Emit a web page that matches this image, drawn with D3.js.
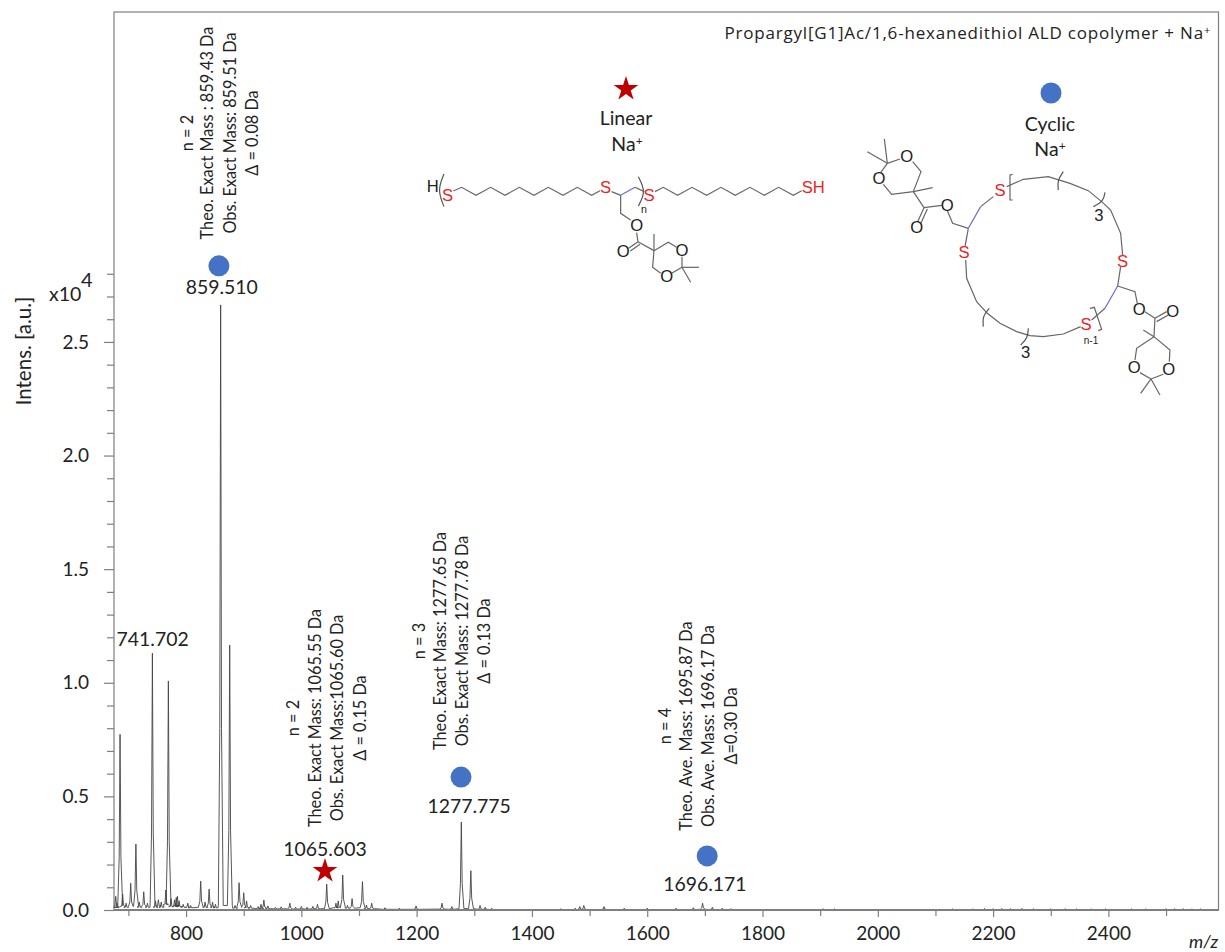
<!DOCTYPE html>
<html><head><meta charset="utf-8">
<script src="https://d3js.org/d3.v7.min.js"></script>
<style>html,body{margin:0;padding:0;background:#fff}svg{display:block}text{font-family:Lato,"Open Sans",sans-serif;fill:#222}</style>
</head><body><svg id="c" width="1225" height="952"></svg>
<script>
// spectrum peaks
const peakMz=[678,680,685.5,690,696,704,713,719,726.6,733,741.6,747,752,757,765,769.3,774,780,783,785,788,795,803,808,825.4,833,840,846,851,860,875.7,885,892,900,905,912,925,930,935,942,955,965,980,990,1000,1010,1020,1028,1044,1060,1064,1071.8,1080,1088,1106,1113,1122,1145,1170,1199,1244,1261,1277.5,1294,1310,1319,1330,1450,1475,1483,1490,1525,1560,1600,1650,1680,1696,1713,1730,1745,1905,1925,2130,2165,2185,2200,2215,2230,2250,2270,2300,2325,2345,2370,2395,2440,2465,2500,2515,2530,2545,2560];
const peakHeight=[0.06,0.03,0.773,0.07,0.03,0.118,0.29,0.035,0.08,0.03,1.13,0.04,0.045,0.035,0.088,1.008,0.05,0.045,0.055,0.06,0.04,0.025,0.03,0.02,0.127,0.035,0.092,0.035,0.025,2.663,1.166,0.02,0.12,0.076,0.04,0.02,0.015,0.025,0.044,0.018,0.012,0.014,0.03,0.012,0.016,0.012,0.016,0.025,0.114,0.03,0.04,0.154,0.02,0.05,0.125,0.022,0.03,0.01,0.008,0.018,0.03,0.015,0.387,0.173,0.02,0.012,0.008,0.006,0.008,0.015,0.02,0.015,0.008,0.008,0.008,0.01,0.03,0.012,0.008,0.006,0.006,0.005,0.005,0.005,0.007,0.006,0.007,0.006,0.007,0.006,0.005,0.006,0.005,0.005,0.005,0.005,0.005,0.006,0.006,0.006,0.005,0.005];
const peakFoot=[0.01,0.012,0.02,0.015,0.012,0.015,0.018,0.012,0.015,0.012,0.018,0.012,0.018,0.012,0.025,0.025,0.015,0.015,0.02,0.02,0.015,0.012,0.012,0.01,0.012,0.012,0.012,0.012,0.01,0.02,0.02,0.008,0.012,0.012,0.01,0.008,0.006,0.007,0.008,0.006,0.005,0.005,0.005,0.004,0.005,0.004,0.005,0.005,0.006,0.01,0.012,0.012,0.008,0.008,0.01,0.006,0.006,0.003,0.003,0.003,0.004,0.003,0.006,0.006,0.003,0.003,0.002,0.002,0.002,0.002,0.002,0.002,0.002,0.002,0.002,0.002,0.003,0.002,0.002,0.002,0.002,0.002,0.002,0.002,0.002,0.002,0.002,0.002,0.002,0.002,0.002,0.002,0.002,0.002,0.002,0.002,0.002,0.002,0.002,0.002,0.002,0.002];
const xMajor=[800,1000,1200,1400,1600,1800,2000,2200,2400];
const xMinor=[700,900,1100,1300,1500,1700,1900,2100,2300,2500];
const yMajor=[0,0.5,1,1.5,2,2.5];
const yMinor=[0.1,0.2,0.3,0.4,0.6,0.7,0.8,0.9,1.1,1.2,1.3,1.4,1.6,1.7,1.8,1.9,2.1,2.2,2.3,2.4,2.6,2.7,2.8];
const peakLabels=["859.510","741.702","1065.603","1277.775","1696.171"];
const peakLabelMz=[862,742,1041,1291,1700];
const peakLabelY=[2.71,1.160,0.237,0.427,0.083];
const circleMz=[857,1277,1704];
const circleY=[2.835,0.585,0.238];
const starMz=[1041];
const starY=[0.172];
const noteGroups=[
 {x:[193,213,236,258],cy:133,t:["n = 2","Theo. Exact Mass : 859.43 Da","Obs. Exact Mass: 859.51 Da","Δ = 0.08 Da"]},
 {x:[299,321,343,366],cy:718,t:["n = 2","Theo. Exact Mass: 1065.55 Da","Obs. Exact Mass:1065.60 Da","Δ = 0.15 Da"]},
 {x:[425,446,468,490],cy:641,t:["n = 3","Theo. Exact Mass: 1277.65 Da","Obs. Exact Mass: 1277.78 Da","Δ = 0.13 Da"]},
 {x:[671,692,714,737],cy:726,t:["n = 4","Theo. Ave. Mass: 1695.87 Da","Obs. Ave. Mass: 1696.17 Da","Δ=0.30 Da"]}
];

const svg=d3.select("#c");
const L=114,R=1218.5,T=12,B=910;
const x=d3.scaleLinear().domain([675,2591]).range([L,R]);
const y=d3.scaleLinear().domain([0,3.952]).range([B,T]);
const grey="#7f7f7f";

svg.append("rect").attr("x",L).attr("y",T).attr("width",R-L).attr("height",B-T).attr("fill","none").attr("stroke",grey).attr("stroke-width",1.2);

const gx=svg.append("g").attr("transform",`translate(0,${B})`);
gx.call(d3.axisBottom(x).tickValues(xMajor).tickSize(7).tickPadding(10).tickFormat(d3.format("d")));
const gxm=svg.append("g").attr("transform",`translate(0,${B})`);
gxm.call(d3.axisBottom(x).tickValues(xMinor).tickSize(6).tickFormat(""));
const gy=svg.append("g").attr("transform",`translate(${L},0)`);
gy.call(d3.axisLeft(y).tickValues(yMajor).tickSize(10).tickPadding(15).tickFormat(d3.format(".1f")));
const gym=svg.append("g").attr("transform",`translate(${L},0)`);
gym.call(d3.axisLeft(y).tickValues(yMinor).tickSize(7).tickFormat(""));
[gx,gxm,gy,gym].forEach(g=>{g.select(".domain").remove();g.selectAll("line").attr("stroke",grey).attr("stroke-width",1.2);
 g.selectAll("text").attr("font-size",19).style("fill","#222");});

const pts=[];
peakMz.forEach((m,i)=>{const h=peakHeight[i],f=peakFoot[i];
 pts.push([m-4,f],[m-1.5,Math.max(f,h*0.3)],[m,h],[m+1.5,Math.max(f,h*0.3)],[m+4.5,f]);});
pts.push([2591,0.002]);
const line=d3.line().x(d=>x(d[0])).y(d=>y(d[1]));
svg.append("path").attr("d",line(pts)).attr("fill","none").attr("stroke","#444").attr("stroke-width",0.9);
svg.append("line").attr("x1",L).attr("x2",R).attr("y1",B).attr("y2",B).attr("stroke",grey).attr("stroke-width",1.8);

peakLabels.forEach((s,i)=>svg.append("text").attr("x",x(peakLabelMz[i])).attr("y",y(peakLabelY[i])).attr("text-anchor","middle").attr("font-size",19.4).text(s));

noteGroups.forEach(g=>g.t.forEach((s,i)=>svg.append("text").attr("transform",`translate(${g.x[i]},${g.cy}) rotate(-90)`).attr("text-anchor","middle").attr("font-size",16.3).text(s)));

const blue="#4472C4",red="#C00000";
const star=d3.symbol().type(d3.symbolStar).size(190);
circleMz.forEach((m,i)=>svg.append("circle").attr("cx",x(m)).attr("cy",y(circleY[i])).attr("r",10.5).attr("fill",blue));
starMz.forEach((m,i)=>svg.append("path").attr("d",star()).attr("transform",`translate(${x(m)},${y(starY[i])})`).attr("fill",red));
svg.append("circle").attr("cx",1051).attr("cy",93).attr("r",10.5).attr("fill",blue);
svg.append("path").attr("d",star()).attr("transform","translate(626,89)").attr("fill",red);

svg.append("text").attr("transform","translate(31,351) rotate(-90)").attr("text-anchor","middle").attr("font-size",20.5).text("Intens. [a.u.]");
svg.append("text").attr("x",49).attr("y",301).attr("font-size",19.5).text("x10");
svg.append("text").attr("x",81).attr("y",287).attr("font-size",20).text("4");
svg.append("text").attr("x",1189).attr("y",948).attr("font-size",18).attr("font-style","italic").text("m/z");
const hdr=svg.append("text").attr("x",1211).attr("y",39).attr("text-anchor","end").attr("font-size",17).attr("letter-spacing",0.8).style("font-family","'Open Sans',sans-serif");
hdr.append("tspan").text("Propargyl[G1]Ac/1,6-hexanedithiol ALD copolymer + Na");
hdr.append("tspan").attr("dy",-5).attr("font-size",11).text("+");

function legendText(cx,yy,a){const t=svg.append("text").attr("x",cx).attr("y",yy).attr("text-anchor","middle").attr("font-size",19.5);t.text(a);return t;}
legendText(626,125,"Linear");
function na(cx,yy){const t=legendText(cx,yy,"Na");t.append("tspan").attr("dy",-6).attr("font-size",12).text("+");}
na(627,151);
legendText(1050,131,"Cyclic");
na(1050,156);

const skeleton=(g,arr,col,w)=>arr.forEach(p=>g.append("path").attr("d",d3.line()(p)).attr("fill","none").attr("stroke",col||"#666").attr("stroke-width",w||3.6));
const brackets=(g,arr)=>arr.forEach(p=>g.append("path").attr("d",d3.line().curve(d3.curveBasis)(p)).attr("fill","none").attr("stroke","#555").attr("stroke-width",3.6));
const atoms=(g,arr)=>arr.forEach(a=>g.append("text").attr("x",a[0]).attr("y",a[1]).attr("text-anchor","middle").attr("dominant-baseline","central").attr("font-size",a[3]||50).style("font-family","'Liberation Sans',Arial,sans-serif").style("fill",a[4]||"#222").text(a[2]));
const S="#ee2222";

const linearBonds=[
 [[160,393],[185,382],[228,406],[272,382],[315,406],[358,382],[402,406],[445,382],[489,406],[532,382],[575,406],[600,392]],
 [[635,395],[662,406]],[[705,382],[733,395]],
 [[765,395],[790,382],[833,406],[876,382],[920,406],[963,382],[1006,406],[1050,382],[1093,406],[1136,382],[1180,406],[1205,392]],
 [[662,406],[662,460],[692,480]],[[710,518],[714,545]],[[714,545],[686,565]],[[720,553],[691,573]],
 [[714,545],[762,572]],[[762,572],[762,522]],[[762,572],[805,547],[830,562]],[[846,590],[846,622]],[[846,622],[815,640]],
 [[782,640],[758,622],[762,572]],[[846,622],[897,622]],[[846,622],[872,667]]
];
const linearParens=[[[132,342],[112,390],[132,440]],[[715,350],[738,395],[715,438]]];
const linearBlue=[[[662,406],[705,382]]];
const linearAtoms=[[98,381,"H"],[143,408,"S",50,S],[617,383,"S",50,S],[747,407,"S",50,S],[1240,383,"SH",50,S],[732,448,"n",32],[710,497,"O"],[670,575,"O"],[846,572,"O"],[800,650,"O"]];
const gl=svg.append("g").attr("transform","translate(400,60) scale(0.3333)");
skeleton(gl,linearBonds);brackets(gl,linearParens);skeleton(gl,linearBlue,"#6a6ad8");atoms(gl,linearAtoms);

const cyclicBonds=[
 [[112,310],[150,297]],[[112,310],[92,338]],[[112,310],[52,275]],[[112,310],[103,237]],
 [[100,373],[125,403],[190,395]],[[190,395],[248,383]],[[188,305],[213,335],[190,395]],[[190,395],[222,443]],
 [[222,443],[203,485]],[[232,447],[213,489]],[[222,443],[275,436]],[[292,452],[308,490],[355,505]],
 [[392,440],[430,410]],[[355,505],[345,560]],
 [[347,600],[350,655],[380,725],[412,760],[450,790],[500,815],[540,827],[580,830],[640,822],[692,800]],
 [[725,780],[765,745]],[[803,678],[812,620]],
 [[818,585],[812,520],[782,450],[755,425],[715,392],[660,370],[595,350],[520,358],[470,380]],
 [[488,343],[480,345],[480,420],[488,420]],[[720,745],[733,742],[755,808],[745,812]],
 [[803,678],[855,695],[862,730]],[[885,755],[915,775]],[[915,775],[950,755]],[[920,785],[955,765]],
 [[915,775],[912,830]],[[912,830],[880,810]],[[912,830],[960,870],[958,905]],[[940,943],[903,957]],
 [[903,957],[872,1000]],[[903,957],[930,1005]],[[903,957],[870,938]],[[855,900],[860,865],[912,830]]
];
const cyclicParens=[[[640,335],[622,362],[625,390]],[[765,397],[760,425],[730,440]],[[418,745],[397,770],[400,800]],[[535,805],[533,835],[512,855]]];
const cyclicBlue=[[[355,505],[392,440]],[[765,745],[803,678]]];
const cyclicAtoms=[[170,290,"O"],[87,355,"O"],[200,503,"O"],[292,436,"O"],[450,392,"S",50,S],[342,578,"S",50,S],[818,605,"S",50,S],[708,795,"S",50,S],[747,468,"3"],[527,878,"3"],[723,843,"n-1",30],[868,748,"O"],[968,755,"O"],[956,928,"O"],[853,922,"O"]];
const gc=svg.append("g").attr("transform","translate(850,60) scale(0.3333)");
skeleton(gc,cyclicBonds);brackets(gc,cyclicParens);skeleton(gc,cyclicBlue,"#6a6ad8");atoms(gc,cyclicAtoms);
</script></body></html>
